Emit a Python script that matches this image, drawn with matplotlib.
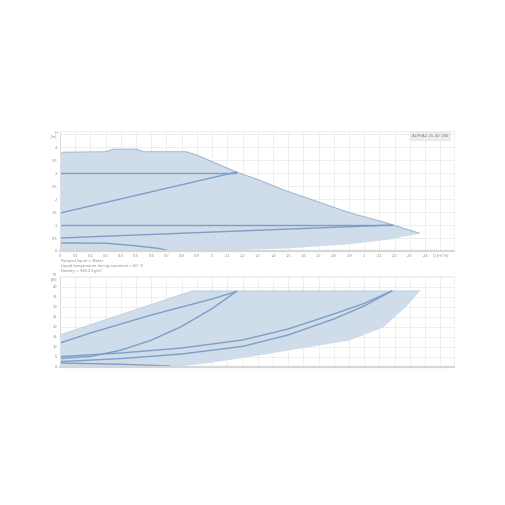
import matplotlib
matplotlib.use("Agg")
import matplotlib.pyplot as plt
import numpy as np

# ---------------- data ----------------
# Head chart (Q in m3/h, H in m)
q_max = [0.0, 0.02, 0.30, 0.35, 0.50, 0.55, 0.83, 0.90, 1.16, 1.31, 1.47, 1.91, 2.12, 2.36]
h_max = [3.70, 3.80, 3.82, 3.92, 3.92, 3.82, 3.82, 3.69, 3.04, 2.73, 2.35, 1.46, 1.13, 0.69]
q_low = [0.72, 1.10, 1.50, 1.90, 2.16, 2.36]
h_low = [0.00, 0.04, 0.12, 0.28, 0.46, 0.69]

q_cp3 = [0.0, 1.16]
h_cp3 = [3.0, 3.0]
q_pp3 = [0.0, 1.16]
h_pp3 = [1.46, 3.04]
q_cp1 = [0.0, 2.18]
h_cp1 = [1.0, 1.0]
q_pp1 = [0.0, 2.18]
h_pp1 = [0.50, 1.0]
q_min = [0.0, 0.30, 0.50, 0.65, 0.72]
h_min = [0.31, 0.30, 0.20, 0.10, 0.0]

# Power chart (P1 in W)
qp_max = [0.0, 0.87, 2.36]
p_max = [16.0, 38.0, 38.0]
qp_low = [0.72, 1.0, 1.3, 1.6, 1.9, 2.12, 2.28, 2.36]
p_low = [0.0, 2.5, 6.0, 9.8, 13.5, 20.0, 31.0, 38.0]
qp_cp3 = [0.0, 0.2, 0.4, 0.6, 0.8, 1.0, 1.16]
p_cp3 = [12.0, 17.0, 21.5, 26.0, 30.0, 34.0, 37.8]
qp_pp3 = [0.0, 0.2, 0.4, 0.6, 0.8, 1.0, 1.16]
p_pp3 = [4.3, 5.3, 8.4, 13.4, 20.3, 29.2, 37.8]
qp_cp1 = [0.0, 0.4, 0.8, 1.2, 1.5, 1.8, 2.0, 2.18]
p_cp1 = [5.2, 7.0, 9.5, 13.5, 19.0, 26.5, 31.8, 38.0]
qp_pp1 = [0.0, 0.4, 0.8, 1.2, 1.5, 1.8, 2.0, 2.18]
p_pp1 = [2.7, 4.2, 6.5, 10.3, 16.0, 24.0, 30.5, 38.0]
qp_min = [0.0, 0.4, 0.72]
p_min = [2.0, 1.4, 0.5]

x_ticks = [round(0.1 * i, 1) for i in range(26)]
x_labels = [("%g" % v) for v in x_ticks[:-1]] + ["Q [m³/h]"]
h_ticks = [0.0, 0.5, 1.0, 1.5, 2.0, 2.5, 3.0, 3.5, 4.0, 4.5]
h_labels = ["%g" % v for v in h_ticks[:-1]] + ["H\n[m]"]
p_ticks = [0, 5, 10, 15, 20, 25, 30, 35, 40, 45]
p_labels = ["%g" % v for v in p_ticks[:-1]] + ["P1\n[W]"]

info_lines = ["Pumped liquid = Water",
              "Liquid temperature during operation = 60 °C",
              "Density = 983.2 kg/m³"]
title_box = "ALPHA2 25-40 180"

# ---------------- style ----------------
FILL = "#cfdce9"
LINE = "#7d9ec8"
GRID = "#ececec"
TXT = "#8a8a8a"

fig = plt.figure(figsize=(5.05, 5.05), dpi=100)
fig.patch.set_facecolor("white")

ax1 = fig.add_axes([60 / 505, 1 - 251 / 505, 394 / 505, 120 / 505])
ax2 = fig.add_axes([60 / 505, 1 - 367 / 505, 394 / 505, 91 / 505])

def style(ax, ylim, yt, yl, show_x):
    ax.set_xlim(0, 2.59)
    ax.set_ylim(*ylim)
    ax.set_xticks(x_ticks)
    ax.set_yticks(yt)
    ax.set_yticklabels(yl, fontsize=2.6, color=TXT, linespacing=0.9)
    if show_x:
        ax.set_xticklabels(x_labels, fontsize=2.6, color=TXT)
    else:
        ax.set_xticklabels([])
    ax.tick_params(length=0, pad=2)
    ax.grid(True, color=GRID, linewidth=0.6)
    ax.set_axisbelow(True)
    for s in ["top", "right"]:
        ax.spines[s].set_color("#eeeeee")
        ax.spines[s].set_linewidth(0.6)
    ax.spines["left"].set_color("#dddddd")
    ax.spines["left"].set_linewidth(0.8)
    ax.spines["bottom"].set_color("#d6d6d6")
    ax.spines["bottom"].set_linewidth(1.6)

style(ax1, (0, 4.62), h_ticks, h_labels, True)
style(ax2, (0, 45.5), p_ticks, p_labels, False)

# ---- head chart ----
qq = np.linspace(0, 2.36, 300)
top = np.interp(qq, q_max, h_max)
bot = np.interp(qq, q_low, h_low, left=0.0)
ax1.fill_between(qq, bot, top, color=FILL, linewidth=0)
ax1.plot(q_max, h_max, color=LINE, lw=0.8, alpha=0.7)
for qx, hy in [(q_cp3, h_cp3), (q_pp3, h_pp3), (q_cp1, h_cp1), (q_pp1, h_pp1), (q_min, h_min)]:
    ax1.plot(qx, hy, color=LINE, lw=1.0)

ax1.text(0.985, 0.975, title_box, transform=ax1.transAxes, ha="right", va="top",
         fontsize=2.8, color="#777777",
         bbox=dict(boxstyle="square,pad=0.5", fc="#eeeeee", ec="#dddddd", lw=0.4))

# ---- power chart ----
topp = np.interp(qq, qp_max, p_max)
botp = np.interp(qq, qp_low, p_low, left=0.0)
ax2.fill_between(qq, botp, topp, color=FILL, linewidth=0)
ax2.plot(qp_max, p_max, color=LINE, lw=0.8, alpha=0.5)
for qx, py in [(qp_cp3, p_cp3), (qp_pp3, p_pp3), (qp_cp1, p_cp1), (qp_pp1, p_pp1), (qp_min, p_min)]:
    ax2.plot(qx, py, color=LINE, lw=1.0)

# ---- info text ----
for i, t in enumerate(info_lines):
    fig.text(61 / 505, 1 - (261 + 4.8 * i) / 505, t, fontsize=2.6, color="#888888",
             ha="left", va="center")

fig.savefig("out.png", dpi=100, facecolor="white")
